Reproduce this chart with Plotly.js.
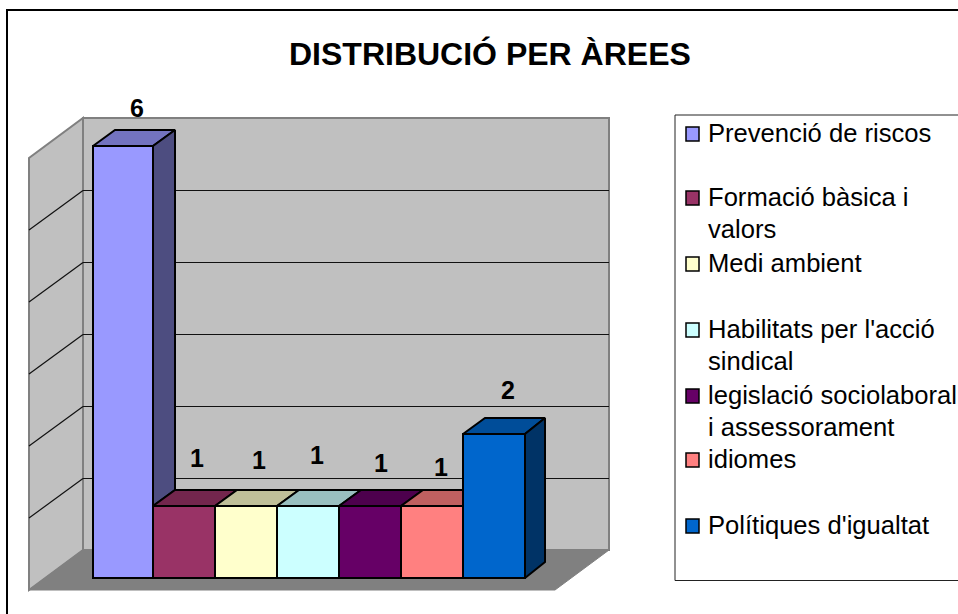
<!DOCTYPE html>
<html><head><meta charset="utf-8">
<script src="https://cdn.plot.ly/plotly-3.0.1.min.js"></script>
<style>html,body{margin:0;padding:0;background:#fff;overflow:hidden}</style>
</head><body><div id="chart" style="width:958px;height:614px"></div>
<script>
// ---- chart data ----
const chartTitle = "DISTRIBUCIÓ PER ÀREES";
const categories = ["Prevenció de riscos","Formació bàsica i valors","Medi ambient","Habilitats per l'acció sindical","legislació sociolaboral i assessorament","idiomes","Polítiques d'igualtat"];
const values = [6,1,1,1,1,1,2];
const colors = ["#9999FF","#993366","#FFFFCC","#CCFFFF","#660066","#FF8080","#0066CC"];
const legendLines = [["Prevenció de riscos"],["Formació bàsica i","valors"],["Medi ambient"],["Habilitats per l'acció","sindical"],["legislació sociolaboral","i assessorament"],["idiomes"],["Polítiques d'igualtat"]];
const yTicks = [0,1,2,3,4,5,6];

// ---- frame geometry (pixels per data unit on a page-filling plot) ----
const W=958,H=614, PX=62, PY=72, X0=91, Y0=578;
const ux=p=>p/PX, uy=p=>p/PY;
const paperX=p=>p/W, paperY=p=>1-p/H;
const barDX=ux(22), barDY=uy(16), firstTrim=ux(2), lastDX=ux(20);
const frontL=ux(29-X0), frontR=ux(555-X0), frontB=uy(-12);
const wallDX=ux(54), wallDY=uy(40), gridShift=uy(-0.5);
const labelNudgeX=[0.24,0.21,0.21,0.15,0.17,0.15,0.23], labelNudgeY=[0.31,0.45,0.42,0.48,0.37,0.32,0.395];
const darker=(hex,k)=>{const n=parseInt(hex.slice(1),16);
  return `rgb(${Math.round((n>>16&255)*k)},${Math.round((n>>8&255)*k)},${Math.round((n&255)*k)})`;};
const poly=(pts,fill,line)=>({type:'path',layer:'below',xref:'x',yref:'y',
  path:'M'+pts.map(p=>p.join(',')).join('L')+'Z',fillcolor:fill,line:line});
const wallLine={color:'#808080',width:2};

// walls and floor
const shapes=[];
const yMax=yTicks[yTicks.length-1];
shapes.push(poly([[frontL,frontB],[frontL+wallDX,frontB+wallDY],[frontL+wallDX,frontB+wallDY+yMax],[frontL,frontB+yMax]],'#C0C0C0',wallLine));
shapes.push(poly([[frontL+wallDX,frontB+wallDY],[frontR+wallDX,frontB+wallDY],[frontR+wallDX,frontB+wallDY+yMax],[frontL+wallDX,frontB+wallDY+yMax]],'#C0C0C0',wallLine));
shapes.push(poly([[frontL,frontB],[frontL+wallDX,frontB+wallDY],[frontR+wallDX,frontB+wallDY],[frontR,frontB]],'#808080',{color:'#808080',width:1}));
yTicks.slice(1,-1).forEach(v=>{
  shapes.push({type:'line',layer:'below',xref:'x',yref:'y',x0:frontL,y0:frontB+v,x1:frontL+wallDX,y1:frontB+wallDY+v+gridShift,line:{color:'#111',width:1.2}});
  shapes.push({type:'line',layer:'below',xref:'x',yref:'y',x0:frontL+wallDX,y0:frontB+wallDY+v+gridShift,x1:frontR+wallDX,y1:frontB+wallDY+v+gridShift,line:{color:'#111',width:1.2}});
});
// outer frame and legend box
shapes.push({type:'rect',layer:'below',xref:'paper',yref:'paper',x0:paperX(7),y0:paperY(640),x1:paperX(990),y1:paperY(10),line:{color:'#000',width:2}});
shapes.push({type:'rect',layer:'below',xref:'paper',yref:'paper',x0:paperX(675),y0:paperY(580.5),x1:paperX(990),y1:paperY(115),line:{color:'#222',width:1}});

// front faces: real bars
const traces=[{type:'bar',x:categories.map((c,i)=>i+0.5+(i===0?firstTrim/2:0)),y:values,width:categories.map((c,i)=>i===0?1-firstTrim:1),base:0,
  marker:{color:colors,line:{color:'#000',width:2}},hovertext:categories,hoverinfo:'text+y',showlegend:false,cliponaxis:false}];

// top and side faces follow from each value
values.forEach((v,i)=>{
  const last=i===values.length-1;
  const next=last?0:values[i+1], x0=i===0?firstTrim:i, x1=i+1, dR=last?lastDX:barDX, style=(c)=>({type:'scatter',mode:'lines',fill:'toself',fillcolor:c,
    line:{color:'#000',width:2},hoverinfo:'skip',showlegend:false,cliponaxis:false});
  const topX=next>v?[x0,x1,x1,x0+barDX,x0]:[x0,x1,x1+dR,x0+barDX,x0];
  const topY=[v,v,v+barDY,v+barDY,v];
  traces.push(Object.assign(style(darker(colors[i],0.75)),{x:topX,y:topY}));
  if(next<v){
    traces.push(Object.assign(style(darker(colors[i],0.5)),{x:[x1,x1+dR,x1+dR,x1,x1],y:[next,next+barDY,v+barDY,v,next]}));
  }
});

// annotations: title, value labels, legend
const FONT='"Liberation Sans", Arial, sans-serif';
const ann=[{text:chartTitle,xref:'paper',yref:'paper',x:paperX(490),y:paperY(54),xanchor:'center',yanchor:'middle',showarrow:false,font:{family:FONT,size:32,color:'#000',weight:'bold'}}];
values.forEach((v,i)=>ann.push({text:'<b>'+v+'</b>',xref:'x',yref:'y',x:i+0.5+labelNudgeX[i],y:v+barDY+labelNudgeY[i],xanchor:'center',yanchor:'middle',showarrow:false,font:{family:FONT,size:25,color:'#000'}}));
const rowY=[133,197,263,329,395,459,525], lineGap=32;
legendLines.forEach((lines,i)=>{
  lines.forEach((t,j)=>ann.push({text:t,xref:'paper',yref:'paper',x:paperX(705.5),y:paperY(rowY[i]+j*lineGap),xanchor:'left',yanchor:'middle',showarrow:false,font:{family:FONT,size:25.6,color:'#000'}}));
  const cy=rowY[i]+1;
  shapes.push({type:'rect',layer:'above',xref:'paper',yref:'paper',x0:paperX(686),x1:paperX(699),y0:paperY(cy-7),y1:paperY(cy+7),fillcolor:colors[i],line:{color:'#000',width:1.5}});
});

Plotly.newPlot('chart',traces,{
  width:W,height:H,margin:{l:0,r:0,t:0,b:0},paper_bgcolor:'#fff',plot_bgcolor:'rgba(0,0,0,0)',
  showlegend:false,bargap:0,shapes:shapes,annotations:ann,
  xaxis:{range:[ux(-X0),ux(W-X0)],visible:false,fixedrange:true},
  yaxis:{range:[uy(Y0-H),uy(Y0)],visible:false,fixedrange:true}
},{displayModeBar:false,staticPlot:true});
</script></body></html>
